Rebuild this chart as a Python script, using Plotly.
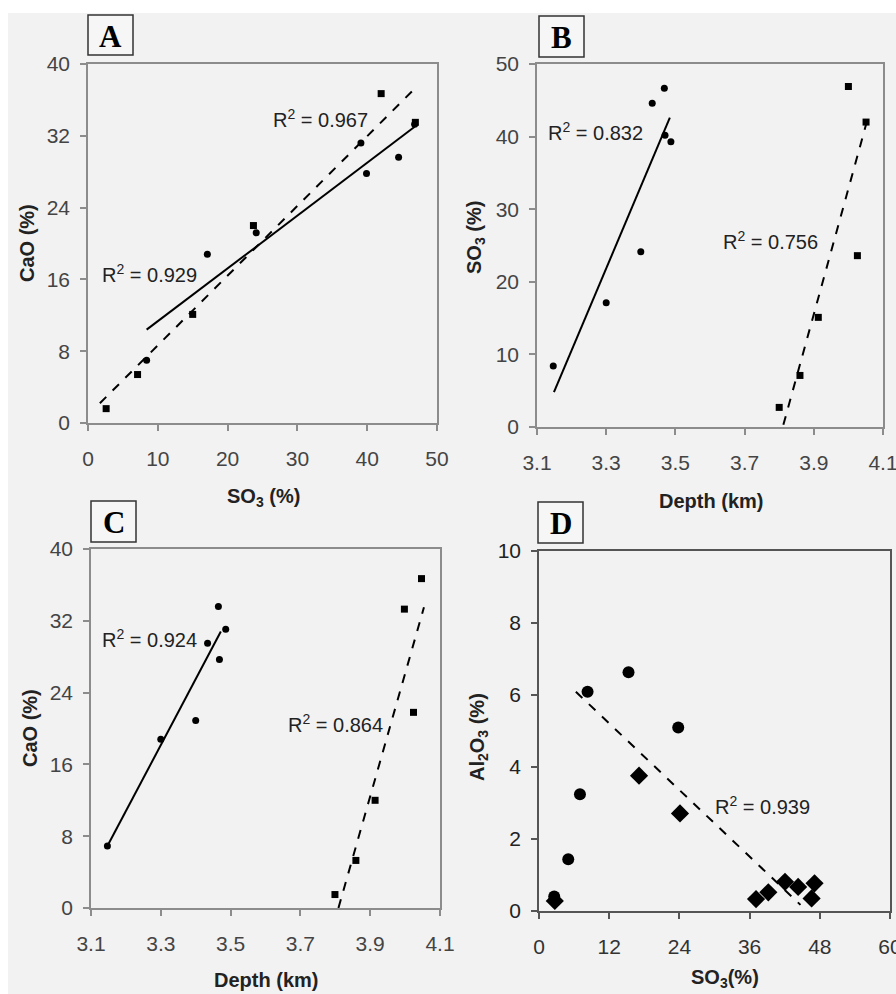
import plotly.graph_objects as go

W, H = 896, 994

# ---------------- data ----------------
# Panel A: CaO vs SO3
a_circ_so3 = [8.4, 17.1, 24.1, 39.1, 39.9, 44.5, 46.8]
a_circ_cao = [7.0, 18.8, 21.2, 31.2, 27.8, 29.6, 33.3]
a_sq_so3 = [2.6, 7.1, 15.0, 23.7, 42.0, 46.9]
a_sq_cao = [1.6, 5.4, 12.1, 22.0, 36.7, 33.5]
a_fit_solid_x = [8.4, 46.8]
a_fit_solid_y = [10.4, 33.0]
a_fit_dash_x = [1.7, 47.0]
a_fit_dash_y = [2.2, 37.4]

# Panel B: SO3 vs depth
b_circ_depth = [3.147, 3.30, 3.40, 3.433, 3.468, 3.470, 3.487]
b_circ_so3 = [8.4, 17.1, 24.15, 44.6, 46.65, 40.2, 39.3]
b_sq_depth = [3.80, 3.86, 3.913, 4.0, 4.026, 4.051]
b_sq_so3 = [2.7, 7.1, 15.1, 46.9, 23.6, 42.0]
b_fit_solid_x = [3.149, 3.484]
b_fit_solid_y = [4.8, 42.6]
b_fit_dash_x = [3.812, 4.053]
b_fit_dash_y = [0.3, 42.0]

# Panel C: CaO vs depth
c_circ_depth = [3.147, 3.30, 3.40, 3.434, 3.465, 3.468, 3.486]
c_circ_cao = [6.9, 18.8, 20.9, 29.5, 33.6, 27.7, 31.05]
c_sq_depth = [3.799, 3.859, 3.914, 3.998, 4.024, 4.047]
c_sq_cao = [1.5, 5.3, 12.0, 33.3, 21.8, 36.7]
c_fit_solid_x = [3.147, 3.472]
c_fit_solid_y = [6.9, 30.8]
c_fit_dash_x = [3.809, 4.054]
c_fit_dash_y = [0.0, 33.5]

# Panel D: Al2O3 vs SO3
d_circ_so3 = [2.6, 5.0, 7.0, 8.3, 15.3, 23.8]
d_circ_al = [0.40, 1.44, 3.24, 6.09, 6.63, 5.1]
d_dia_so3 = [2.7, 17.1, 24.1, 37.1, 39.2, 42.05, 44.3, 46.6, 47.1]
d_dia_al = [0.28, 3.76, 2.71, 0.33, 0.52, 0.81, 0.67, 0.35, 0.77]
d_fit_dash_x = [6.3, 44.7]
d_fit_dash_y = [6.09, 0.17]

r2_labels = ["R<sup>2</sup> = 0.967", "R<sup>2</sup> = 0.929", "R<sup>2</sup> = 0.832",
             "R<sup>2</sup> = 0.756", "R<sup>2</sup> = 0.924", "R<sup>2</sup> = 0.864",
             "R<sup>2</sup> = 0.939"]

# ---------------- layout helpers ----------------
def px_x(p):
    return p / W

def px_y(p):
    return 1 - p / H

fig = go.Figure()

def add_pts(x, y, sym, size, ax):
    fig.add_trace(go.Scatter(x=x, y=y, mode="markers",
                             marker=dict(symbol=sym, size=size, color="black"),
                             xaxis=ax[0], yaxis=ax[1], showlegend=False, hoverinfo="skip"))

def add_line(x, y, dash, ax):
    fig.add_trace(go.Scatter(x=x, y=y, mode="lines",
                             line=dict(color="black", width=2, dash=dash),
                             xaxis=ax[0], yaxis=ax[1], showlegend=False, hoverinfo="skip"))

A = ("x", "y"); B = ("x2", "y2"); C = ("x3", "y3"); D = ("x4", "y4")

add_line(a_fit_solid_x, a_fit_solid_y, "solid", A)
add_line(a_fit_dash_x, a_fit_dash_y, "dash", A)
add_pts(a_circ_so3, a_circ_cao, "circle", 7, A)
add_pts(a_sq_so3, a_sq_cao, "square", 7, A)

add_line(b_fit_solid_x, b_fit_solid_y, "solid", B)
add_line(b_fit_dash_x, b_fit_dash_y, "dash", B)
add_pts(b_circ_depth, b_circ_so3, "circle", 7, B)
add_pts(b_sq_depth, b_sq_so3, "square", 7, B)

add_line(c_fit_solid_x, c_fit_solid_y, "solid", C)
add_line(c_fit_dash_x, c_fit_dash_y, "dash", C)
add_pts(c_circ_depth, c_circ_cao, "circle", 7, C)
add_pts(c_sq_depth, c_sq_cao, "square", 7, C)

add_line(d_fit_dash_x, d_fit_dash_y, "dash", D)
add_pts(d_circ_so3, d_circ_al, "circle", 12, D)
add_pts(d_dia_so3, d_dia_al, "diamond", 14, D)

FONT = "Arial, Liberation Sans, sans-serif"
tickfont = dict(family=FONT, size=21, color="#444")
gray = "#8c8c8c"

def axis(domain, rng, dtick, anchor, is_x, linecolor=gray, tick0=None, fmt=None):
    d = dict(domain=domain, range=rng, dtick=dtick, anchor=anchor, automargin=False,
             showline=True, linecolor=linecolor, linewidth=1.5, mirror=True,
             ticks="outside", ticklen=6, tickcolor=linecolor, tickwidth=1.5,
             showgrid=False, zeroline=False, tickfont=tickfont, fixedrange=True,
             ticklabeloverflow="allow",
             ticklabelstandoff=(10 if is_x else 6))
    if tick0 is not None:
        d["tick0"] = tick0
    if fmt:
        d["tickformat"] = fmt
    return d

fig.update_layout(
    width=W, height=H, margin=dict(l=0, r=0, t=0, b=0, pad=0, autoexpand=False),
    paper_bgcolor="#f2f2f2", plot_bgcolor="#f2f2f2",
    xaxis=axis([px_x(88), px_x(437)], [0, 50], 10, "y", True),
    yaxis=axis([px_y(423), px_y(64)], [0, 40], 8, "x", False),
    xaxis2=axis([px_x(537), px_x(883)], [3.1, 4.1], 0.2, "y2", True, tick0=3.1, fmt=".1f"),
    yaxis2=axis([px_y(427), px_y(64)], [0, 50], 10, "x2", False),
    xaxis3=axis([px_x(91), px_x(440)], [3.1, 4.1], 0.2, "y3", True, tick0=3.1, fmt=".1f"),
    yaxis3=axis([px_y(908), px_y(549)], [0, 40], 8, "x3", False),
    xaxis4=axis([px_x(539), px_x(890)], [0, 60], 12, "y4", True, linecolor="#555"),
    yaxis4=axis([px_y(911), px_y(551)], [0, 10], 2, "x4", False, linecolor="#555"),
)
fig.layout.yaxis4.tickfont = dict(family=FONT, size=21, color="#222")
fig.layout.xaxis4.tickfont = dict(family=FONT, size=21, color="#333")

shapes = [
    dict(type="rect", xref="paper", yref="paper", x0=0, x1=1, y0=px_y(13), y1=1,
         fillcolor="white", line=dict(width=0), layer="below"),
    dict(type="rect", xref="paper", yref="paper", x0=0, x1=px_x(8), y0=0, y1=1,
         fillcolor="white", line=dict(width=0), layer="below"),
]
letters = [("A", 88, 15, 133, 55), ("B", 539, 16, 584, 57),
           ("C", 91, 501, 136, 542), ("D", 538, 502, 583, 543)]
anns = []
for t, x0, y0, x1, y1 in letters:
    shapes.append(dict(type="rect", xref="paper", yref="paper",
                       x0=px_x(x0), x1=px_x(x1), y0=px_y(y1), y1=px_y(y0),
                       line=dict(color="#333", width=1.5), fillcolor="#f6f6f6"))
    anns.append(dict(text="<b>%s</b>" % t, x=px_x((x0 + x1) / 2), y=px_y((y0 + y1) / 2 + 1),
                     xref="paper", yref="paper", showarrow=False,
                     font=dict(family="Times New Roman, Liberation Serif, serif", size=31, color="black"),
                     xanchor="center", yanchor="middle"))

r2_pos = [(320, 118), (149, 274), (595, 132), (770, 240), (149, 638), (335, 723), (762, 805)]
for lab, (x, y) in zip(r2_labels, r2_pos):
    anns.append(dict(text=lab, x=px_x(x), y=px_y(y), xref="paper", yref="paper", showarrow=False,
                     font=dict(family=FONT, size=20, color="#222"),
                     xanchor="center", yanchor="middle"))

titlefont = dict(family=FONT, size=20, color="#222")
titles = [
    ("<b>CaO (%)</b>", 27, 243, -90),
    ("<b>SO<sub>3</sub> (%)</b>", 263, 497, 0),
    ("<b>SO<sub>3</sub> (%)</b>", 475, 238, -90),
    ("<b>Depth (km)</b>", 711, 501, 0),
    ("<b>CaO (%)</b>", 30, 728, -90),
    ("<b>Depth (km)</b>", 266, 980, 0),
    ("<b>Al<sub>2</sub>O<sub>3</sub> (%)</b>", 478, 737, -90),
    ("<b>SO<sub>3</sub>(%)</b>", 725, 978, 0),
]
for t, x, y, ang in titles:
    anns.append(dict(text=t, x=px_x(x), y=px_y(y), xref="paper", yref="paper", showarrow=False,
                     textangle=ang, font=titlefont, xanchor="center", yanchor="middle"))

fig.update_layout(shapes=shapes, annotations=anns)
fig.write_html("out.html")
